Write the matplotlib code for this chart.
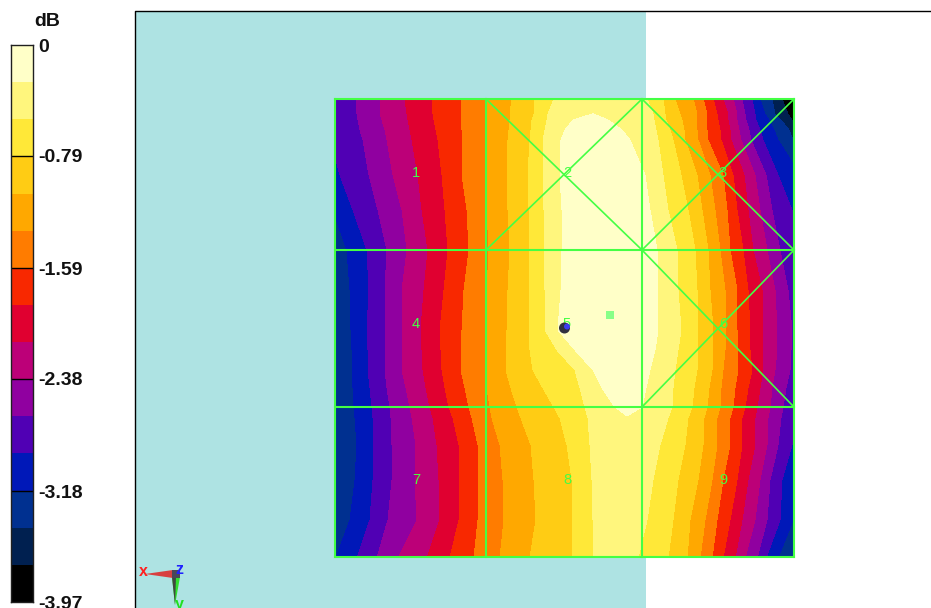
import matplotlib
matplotlib.use('Agg')
import matplotlib.pyplot as plt
import numpy as np
from matplotlib.colors import ListedColormap, BoundaryNorm
from matplotlib.patches import Rectangle, Polygon, Circle

plt.rcParams['font.family'] = ['Liberation Sans', 'DejaVu Sans']

# colour bar
band_colors = ['#000000', '#002050', '#003090', '#0018b8', '#5000b4', '#9000a0', '#bc0078', '#e00030',
               '#f82800', '#ff7c00', '#ffa800', '#ffcc14', '#ffe838', '#fff67d', '#ffffc8']
db_min = -3.97
tick_values = [0, -0.79, -1.59, -2.38, -3.18, -3.97]
tick_labels = ['0', '-0.79', '-1.59', '-2.38', '-3.18', '-3.97']

# row positions across the scan area, and where each contour level is crossed on a row
row_y = [99, 114, 120, 130, 140, 175, 210, 250, 290, 330, 350, 370, 388, 407, 418, 445, 480, 520, 558]

# columns: level 14 (darkest) .. level 1 (palest), left of the peak
left_cross = [
    [260, 285, 310, 333, 356, 380, 405, 432, 461, 487, 512, 534, 554, 575],
    [260, 285, 310, 331, 357, 380, 407, 433, 461, 487, 510, 534, 548, 575],
    [260, 285, 310, 331, 358, 382, 408, 434, 461, 487, 510, 532, 547, 573],
    [260, 285, 309, 331, 360, 385, 410, 436, 462, 487, 509, 531, 545, 565],
    [260, 285, 308, 331, 363, 387, 412, 438, 462, 487, 508, 530, 543, 561],
    [265, 290, 315, 340, 369, 393, 418, 442, 462, 487, 507, 528, 543, 560],
    [275, 300, 333, 353, 378, 402, 422, 445, 467, 487, 508, 529, 544, 562],
    [290, 315, 347, 367, 387, 407, 428, 448, 469, 489, 510, 529, 544, 562],
    [295, 320, 350, 369, 385, 402, 424, 444, 464, 487, 508, 529, 545, 561],
    [295, 320, 351, 367, 385, 402, 421, 440, 462, 487, 507, 529, 545, 558],
    [295, 320, 352, 368, 385, 402, 422, 441, 461, 486, 506, 530, 557, 575],
    [295, 320, 352, 368, 385, 402, 423, 442, 461, 485, 506, 533, 575, 593],
    [295, 321, 353, 370, 387, 406, 426, 445, 465, 487, 511, 543, 580, 602],
    [295, 322, 354, 372, 390, 410, 430, 449, 469, 490, 517, 554, 585, 615],
    [300, 328, 355, 373, 391, 412, 433, 453, 472, 492, 521, 560, 588, 610],
    [310, 336, 357, 374, 392, 416, 437, 459, 478, 500, 531, 567, 590, 605],
    [305, 334, 355, 373, 392, 415, 439, 460, 479, 503, 534, 572, 592, 605],
    [295, 325, 350, 370, 388, 417, 440, 459, 478, 504, 536, 573, 593, 605],
    [270, 305, 336, 357, 377, 398, 427, 450, 474, 500, 530, 572, 593, 605],
]

# columns: level 1 (palest) .. level 14 (darkest), right of the peak
right_cross = [
    [610, 647, 663, 675, 693, 703, 713, 723, 733, 742, 752, 760, 772, 782],
    [610, 653, 665, 680, 697, 707, 717, 728, 737, 745, 755, 765, 775, 788],
    [608, 654, 666, 682, 697, 706, 718, 728, 737, 746, 756, 769, 781, 792],
    [622, 656, 670, 684, 697, 707, 720, 730, 739, 749, 760, 774, 789, 802],
    [630, 658, 673, 685, 698, 708, 721, 731, 741, 751, 763, 778, 793, 808],
    [645, 663, 681, 697, 710, 723, 733, 744, 755, 766, 778, 800, 815, 830],
    [650, 668, 688, 702, 715, 727, 737, 748, 760, 772, 792, 812, 826, 840],
    [657, 677, 695, 708, 720, 730, 743, 753, 767, 780, 797, 815, 830, 845],
    [658, 678, 697, 710, 725, 737, 748, 762, 775, 788, 800, 818, 833, 848],
    [658, 681, 698, 713, 726, 737, 750, 763, 777, 792, 803, 820, 835, 850],
    [655, 678, 698, 713, 725, 738, 750, 763, 777, 791, 803, 820, 835, 850],
    [650, 675, 697, 712, 723, 738, 752, 763, 775, 790, 802, 820, 835, 850],
    [646, 673, 694, 709, 721, 735, 748, 760, 772, 786, 801, 819, 834, 849],
    [642, 672, 692, 707, 720, 733, 745, 757, 770, 783, 800, 818, 833, 848],
    [645, 668, 688, 704, 717, 730, 742, 755, 768, 781, 798, 815, 830, 845],
    [635, 660, 685, 703, 717, 730, 742, 755, 767, 778, 792, 810, 826, 841],
    [635, 653, 678, 698, 712, 723, 737, 748, 760, 770, 782, 797, 815, 830],
    [635, 647, 673, 690, 705, 717, 730, 742, 755, 767, 780, 793, 803, 818],
    [625, 638, 668, 687, 700, 712, 723, 735, 745, 757, 766, 778, 793, 808],
]

peak_x = [592, 593, 590, 595, 598, 602, 605, 608, 610, 610, 612, 618, 625, 628, 627, 620, 620, 620, 615]
peak_db = [-0.36, -0.26, -0.2, -0.15, -0.1, -0.05, -0.03, -0.02, -0.01, 0, -0.02, -0.06, -0.12, -0.2, -0.28, -0.4,
           -0.42, -0.42, -0.42]
palest_db = [-0.42, -0.42, -0.2647, -0.2647, -0.2647, -0.2647, -0.2647, -0.2647, -0.2647, -0.2647, -0.2647, -0.2647,
             -0.2647, -0.2647, -0.36, -0.45, -0.46, -0.46, -0.46]

# cells of the scan and the grid lines over it
scan_x = [335, 486, 642, 794]
scan_y = [99, 250, 407, 557]
cell_x = [416, 567, 723]
cell_y = [173, 324, 480]
crossed_cells = [(1, 0), (2, 0), (2, 1)]

levels = np.linspace(db_min, 0, 16)
inner = levels[1:-1]

L = np.array(left_cross, dtype=float)
R = np.array(right_cross, dtype=float)
n = len(row_y)
X = np.column_stack([np.full(n, 230.0), L, peak_x, R, np.full(n, 870.0)])
Y = np.tile(np.array(row_y, dtype=float).reshape(-1, 1), (1, X.shape[1]))
Z = np.zeros(X.shape)
Z[:, 0] = db_min
Z[:, -1] = db_min
Z[:, 1:15] = inner
Z[:, 16:30] = inner[::-1]
Z[:, 14] = palest_db
Z[:, 15] = peak_db
Z[:, 16] = palest_db

cmap = ListedColormap(band_colors)
norm = BoundaryNorm(levels, cmap.N)
green = '#44ff44'

fig = plt.figure(figsize=(9.31, 6.08), dpi=100)
ax = fig.add_axes([0, 0, 1, 1])
ax.set_xlim(0, 931)
ax.set_ylim(608, 0)
ax.axis('off')

# phantom background
ax.add_patch(Rectangle((135, 11), 511, 600, facecolor='#aee3e3', edgecolor='none', zorder=1))
ax.plot([135, 135, 931], [608, 11, 11], color='black', lw=1, zorder=2)

# field
cs = ax.contourf(X, Y, Z, levels=levels, cmap=cmap, norm=norm, zorder=3, antialiased=False)
clip = Rectangle((335, 99), 459, 458, transform=ax.transData)
cs.set_clip_path(clip)

# grid
for x in scan_x:
    ax.plot([x, x], [scan_y[0], scan_y[-1]], color=green, lw=1.5, zorder=4)
for y in scan_y:
    ax.plot([scan_x[0], scan_x[-1]], [y, y], color=green, lw=1.5, zorder=4)
for col, row in crossed_cells:
    x0, x1 = scan_x[col], scan_x[col + 1]
    y0, y1 = scan_y[row], scan_y[row + 1]
    ax.plot([x0, x1], [y0, y1], color=green, lw=1.2, zorder=4)
    ax.plot([x0, x1], [y1, y0], color=green, lw=1.2, zorder=4)

num = 1
for y in cell_y:
    for x in cell_x:
        ax.text(x, y, str(num), color=green, fontsize=10.5, ha='center', va='center', zorder=5)
        num += 1

# probe markers
ax.add_patch(Rectangle((606, 311), 8, 8, facecolor='#88ff88', edgecolor='none', zorder=5))
ax.add_patch(Circle((564.5, 328), 5.5, facecolor='#303040', edgecolor='none', zorder=5))
ax.add_patch(Circle((567, 326.5), 3, facecolor='#3c3cf0', edgecolor='none', zorder=6))

# axis triad
ax.add_patch(Polygon([[145, 574], [173, 570], [173, 578]], facecolor='#d84040', edgecolor='none', zorder=5))
ax.add_patch(Polygon([[172, 577], [180, 577], [175, 605]], facecolor='#30e030', edgecolor='none', zorder=5))
ax.add_patch(Polygon([[172, 577], [176, 577], [175, 605]], facecolor='#404840', edgecolor='none', zorder=5))
ax.add_patch(Rectangle((172, 570), 8, 8, facecolor='#484858', edgecolor='none', zorder=6))
ax.text(143, 571, 'x', color='#ff2020', fontsize=11.5, fontweight='bold', ha='center', va='center', zorder=7)
ax.text(179, 570, 'z', color='#2020ff', fontsize=11.5, fontweight='bold', ha='center', va='center', zorder=7)
ax.text(179, 605, 'y', color='#20e020', fontsize=11.5, fontweight='bold', ha='center', va='center', zorder=7)

# colour bar axes, 11..33 px wide, 45..602 px tall
cax = fig.add_axes([11 / 931, 1 - 602 / 608, 22 / 931, 557 / 608])
cax.pcolormesh([0, 1], levels, (levels[:-1] + levels[1:]).reshape(-1, 1) / 2, cmap=cmap, norm=norm)
cax.set_xticks([])
cax.set_ylim(db_min, 0)
cax.yaxis.tick_right()
cax.set_yticks(tick_values)
cax.set_yticklabels(tick_labels, fontsize=14, fontweight='bold', color='#111111', clip_on=False)
cax.tick_params(axis='y', length=0, pad=4)
cax.hlines(tick_values[1:-1], 0, 1, color='black', lw=1)
for s in cax.spines.values():
    s.set_linewidth(1)
    s.set_color('#202020')
fig.text(47 / 931, 1 - 22 / 608, 'dB', fontsize=14, fontweight='bold', color='#111111', ha='center', va='center')

fig.savefig('out.png', dpi=100)
